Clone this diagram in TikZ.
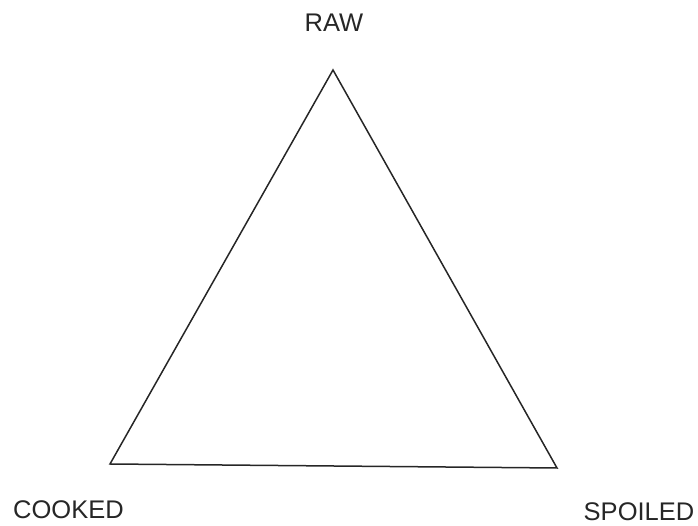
\documentclass[tikz,border=0pt]{standalone}
\usepackage{fontspec}
\setmainfont{Liberation Sans}
\begin{document}
\begin{tikzpicture}[x=1pt,y=1pt,
  lbl/.style={anchor=base,inner sep=0pt,font=\fontsize{25.5}{30}\selectfont,text=black!85},
  edge/.style={draw=black!85,line width=1.5pt,line join=miter}]
\useasboundingbox (0,0) rectangle (698,526);
\coordinate (r) at (333,456);
\coordinate (c) at (110,62);
\coordinate (s) at (557,58);
\draw[edge] (r) -- (c) -- (s) -- cycle;
\node[lbl] (raw) at (334,494) {RAW};
\node[lbl] (cooked) at (68.5,7) {COOKED};
\node[lbl] (spoiled) at (639,5) {SPOILED};
\end{tikzpicture}
\end{document}
